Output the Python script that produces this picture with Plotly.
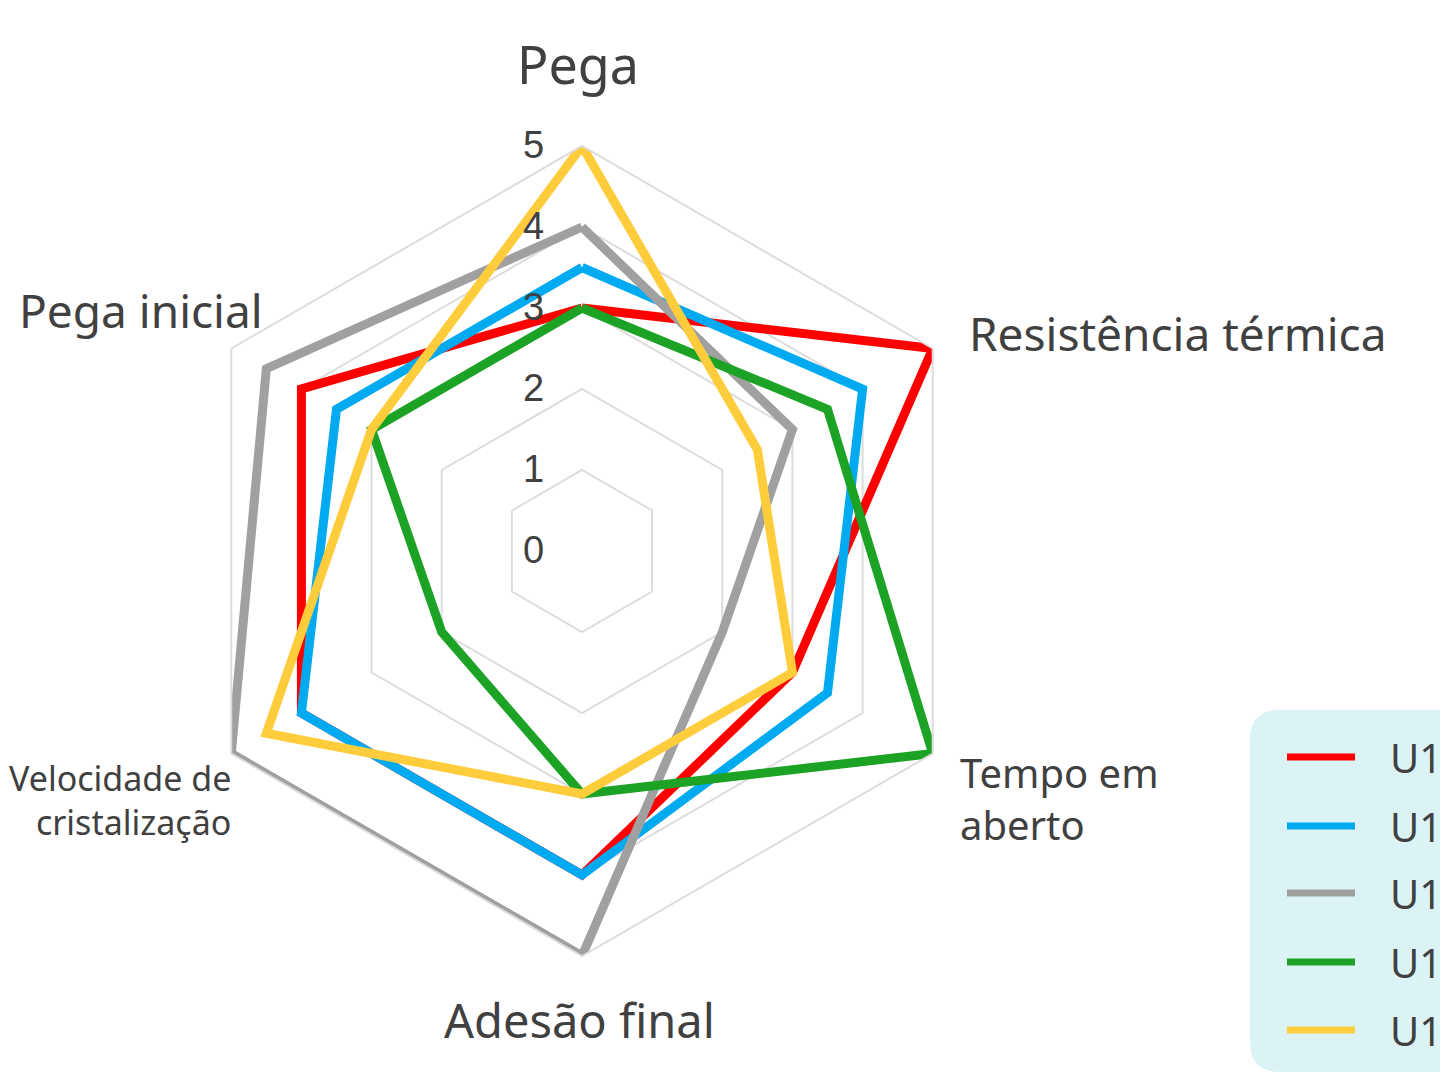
import plotly.graph_objects as go

W, H = 1448, 1086
PAGE_MARGIN = 8  # body margin of the html page

# axes of the radar, clockwise from the top
categories = ["Pega", "Resistência térmica", "Tempo em aberto",
              "Adesão final", "Velocidade de cristalização", "Pega inicial"]

series_names = ["U1", "U1", "U1", "U1", "U1"]
series_colors = ["#ff0000", "#00aaf0", "#a0a0a0", "#1ca325", "#ffcd3c"]

red_values = [3, 5, 3, 4, 4, 4]
blue_values = [3.5, 4, 3.5, 4, 4, 3.5]
gray_values = [4, 3, 2, 5, 5, 4.5]
green_values = [3, 3.5, 5, 3, 2, 3]
yellow_values = [5, 2.5, 3, 3, 4.5, 3]

radial_ticks = [0, 1, 2, 3, 4, 5]

all_values = [red_values, blue_values, gray_values, green_values, yellow_values]

FONT = "Noto Sans"
TXT = "#404040"


def px_x(v):
    return (v - PAGE_MARGIN) / W


def px_y(v):
    return 1 - (v - PAGE_MARGIN) / H


fig = go.Figure()
for name, color, vals in zip(series_names, series_colors, all_values):
    fig.add_trace(go.Scatterpolar(
        r=vals + vals[:1],
        theta=categories + categories[:1],
        mode="lines",
        name=name,
        line=dict(color=color, width=9),
        showlegend=False,
    ))

fig.update_layout(
    width=W, height=H,
    margin=dict(l=0, r=0, t=0, b=0, autoexpand=False),
    paper_bgcolor="white",
    plot_bgcolor="white",
    font=dict(family=FONT, color=TXT),
    polar=dict(
        domain=dict(x=[px_x(177), px_x(987)], y=[px_y(956), px_y(146)]),
        gridshape="linear",
        bgcolor="white",
        radialaxis=dict(
            range=[0, 5], tickvals=radial_ticks, angle=90,
            side="counterclockwise", layer="above traces",
            showline=False, gridcolor="#dcdcdc", gridwidth=2,
            ticks="outside", ticklen=24, tickcolor="rgba(0,0,0,0)",
            tickangle=90,
            tickfont=dict(family="Liberation Sans", size=38, color=TXT),
        ),
        angularaxis=dict(
            rotation=90, direction="clockwise",
            showticklabels=False, ticks="", showgrid=False,
            showline=True, linecolor="#dcdcdc", linewidth=2,
        ),
    ),
)

# axis labels
labels = [
    ("Pega", 578, 63, "center", 52),
    ("Resistência térmica", 967, 333, "left", 46),
    ("Tempo em<br>aberto", 958, 798, "left", 40),
    ("Adesão final", 579, 1020, "center", 47),
    ("Velocidade de<br>cristalização", 233, 800, "right", 34),
    ("Pega inicial", 265, 310, "right", 46),
]
for text, x, y, anchor, size in labels:
    fig.add_annotation(
        text=text, x=px_x(x), y=px_y(y), xref="paper", yref="paper",
        xanchor=anchor, yanchor="middle", align=anchor, showarrow=False,
        font=dict(family=FONT, size=size, color=TXT),
    )

# legend box (rounded, running off the right edge)
x0, x1, y0, y1, rad = 1250, 1500, 710, 1072, 30
rx, ry = rad / W, rad / H
X0, X1, Y0, Y1 = px_x(x0), px_x(x1), px_y(y0), px_y(y1)
path = (f"M {X0 + rx} {Y0} L {X1} {Y0} L {X1} {Y1} L {X0 + rx} {Y1} "
        f"Q {X0} {Y1} {X0} {Y1 + ry} L {X0} {Y0 - ry} Q {X0} {Y0} {X0 + rx} {Y0} Z")
fig.add_shape(type="path", path=path, xref="paper", yref="paper",
              fillcolor="#dcf3f6", line=dict(width=0), layer="below")

legend_y = [757, 826, 893, 962, 1030]
for name, color, ly in zip(series_names, series_colors, legend_y):
    fig.add_shape(type="line", xref="paper", yref="paper",
                  x0=px_x(1287), x1=px_x(1355), y0=px_y(ly), y1=px_y(ly),
                  line=dict(color=color, width=7))
    fig.add_annotation(
        text=name, x=px_x(1388), y=px_y(ly), xref="paper", yref="paper",
        xanchor="left", yanchor="middle", showarrow=False,
        font=dict(family=FONT, size=40, color=TXT),
    )

fig.write_html("out.html")
